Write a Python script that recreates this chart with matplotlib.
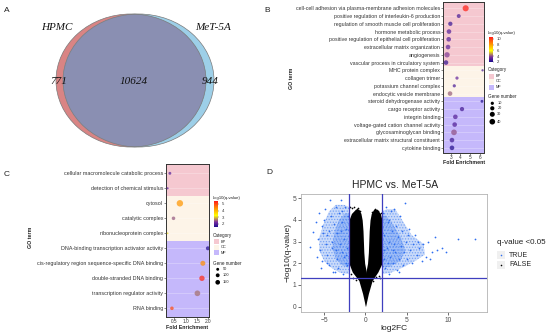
import numpy as np
import matplotlib
matplotlib.use('Agg')
import matplotlib.pyplot as plt
from matplotlib.patches import Ellipse, Rectangle
from matplotlib.colors import LinearSegmentedColormap, Normalize
from matplotlib.cm import ScalarMappable

plt.rcParams['font.family'] = ['Liberation Sans', 'DejaVu Sans']
plt.rcParams['hatch.linewidth'] = 0.6

# ---- A: venn ----
venn_names = ['HPMC', 'MeT-5A']
venn_counts = [771, 10624, 944]   # HPMC only, both, MeT-5A only

# ---- B: GO terms (HPMC vs MeT-5A, top) ----
go_b_terms = ['cell-cell adhesion via plasma-membrane adhesion molecules',
              'positive regulation of interleukin-6 production',
              'regulation of smooth muscle cell proliferation',
              'hormone metabolic process',
              'positive regulation of epithelial cell proliferation',
              'extracellular matrix organization',
              'angiogenesis',
              'vascular process in circulatory system',
              'MHC protein complex',
              'collagen trimer',
              'potassium channel complex',
              'endocytic vesicle membrane',
              'steroid dehydrogenase activity',
              'cargo receptor activity',
              'integrin binding',
              'voltage-gated cation channel activity',
              'glycosaminoglycan binding',
              'extracellular matrix structural constituent',
              'cytokine binding']
go_b_cat = ['BP'] * 8 + ['CC'] * 4 + ['MF'] * 7
go_b_fe = [4.55, 3.83, 2.96, 2.82, 2.79, 2.72, 2.62, 2.51, 6.3, 3.65, 3.37,
           2.93, 6.24, 4.17, 3.48, 3.41, 3.34, 3.13, 3.13]
go_b_logq = [10.5, 2.8, 2.5, 3.0, 3.0, 3.2, 3.8, 2.4, 2.8, 3.3, 2.8, 4.2,
             2.0, 2.7, 3.0, 2.9, 4.0, 2.6, 2.1]
go_b_genes = [47, 17, 21, 25, 25, 25, 35, 25, 3, 10, 10, 25, 7, 21, 25, 25,
              40, 25, 25]

# ---- C: GO terms (bottom) ----
go_c_terms = ['cellular macromolecule catabolic process',
              'detection of chemical stimulus',
              'cytosol',
              'catalytic complex',
              'ribonucleoprotein complex',
              'DNA-binding transcription activator activity',
              'cis-regulatory region sequence-specific DNA binding',
              'double-stranded DNA binding',
              'transcription regulator activity',
              'RNA binding']
go_c_cat = ['BP'] * 2 + ['CC'] * 3 + ['MF'] * 5
go_c_fe = [0.31, 0.21, 0.75, 0.47, 0.21, 1.98, 1.76, 1.72, 1.52, 0.40]
go_c_logq = [2.0, 2.0, 4.3, 2.5, 3.1, 1.6, 4.4, 5.3, 2.6, 5.0]
go_c_genes = [50, 20, 300, 82, 10, 105, 177, 203, 230, 82]

# ---- D: volcano ----
# dense non-significant cloud, two lobes: q level, left / right edge
lobe_q = [0, 0.6, 1.2, 1.6, 2.0, 2.5, 3.0, 3.5, 4.0, 4.3, 4.5]
lobe_l_left = [0, -0.35, -0.8, -1.6, -2, -2, -2, -2, -2, -1.7, -1.2]
lobe_l_right = [0, 0.1, 0.2, 0.1, -0.1, -0.2, -0.25, -0.3, -0.4, -0.55, -0.8]
lobe_r_left = [0, -0.1, -0.1, 0.05, 0.25, 0.35, 0.4, 0.45, 0.55, 0.7, 1.0]
lobe_r_right = [0, 0.35, 0.8, 1.5, 2, 2, 2, 2, 2, 1.8, 1.4]
black_fc = [-1.5, 1.3, -1.2, 1.6, -1.8, 0.9, -1.9, 1.9, -1.4, 1.1, -0.9, 1.7,
            -1.6, -1.0, 1.5, 0.8, -0.7, 1.2]
black_q = [1.3, 1.35, 1.25, 1.4, 1.5, 1.2, 4.6, 4.3, 4.6, 4.45, 4.55, 1.3,
           4.55, 4.5, 4.4, 4.35, 4.4, 4.5]
# significant spread, outer and core outlines
sig_l_fc = [-2, -3, -4, -5, -5.6, -5.6, -5.0, -4.4, -3.6, -2.6, -2]
sig_l_q = [1.5, 1.55, 1.75, 2.1, 2.6, 3.2, 3.9, 4.4, 4.7, 4.7, 4.6]
core_l_fc = [-2, -2.8, -3.6, -4.0, -3.8, -3.2, -2.5, -2]
core_l_q = [1.8, 1.9, 2.2, 2.7, 3.4, 4.0, 4.3, 4.3]
sig_r_fc = [2, 3, 4.5, 6, 7.2, 7.0, 5.6, 4.6, 3.6, 2.6, 2]
sig_r_q = [1.5, 1.55, 1.8, 2.1, 2.4, 2.9, 3.3, 3.9, 4.5, 4.5, 4.4]
core_r_fc = [2, 3, 4.2, 4.8, 4.3, 3.3, 2.5, 2]
core_r_q = [1.8, 1.85, 2.1, 2.6, 3.2, 3.8, 4.2, 4.2]
blue_fc = [-6.7, -6.3, -5.9, -5.7, -5.5, -5.3, -5.2, -5.0, -4.9, -4.7, -4.6,
           -4.4, -4.3, -4.2, -4.1, -4.0, -3.9, -3.8, -3.6, -3.5, -3.4, -3.3,
           -3.2, -3.1, -3.0, -2.9, -2.8, -2.7, -2.6, -2.5, -2.4, -2.3, -2.2,
           -2.1, -2.6, -3.6, -4.4, -3.0, -2.2, -5.6, -6.0, -5.4, -4.8, -3.7,
           -2.9, -2.4, -4.6, -5.1,
           2.1, 2.2, 2.3, 2.4, 2.5, 2.6, 2.7, 2.8, 2.9, 3.0, 3.1, 3.2, 3.3,
           3.4, 3.5, 3.6, 3.7, 3.8, 3.9, 4.0, 4.2, 4.3, 4.4, 4.5, 4.6, 4.8,
           4.9, 5.0, 5.2, 5.4, 5.6, 5.8, 6.0, 6.2, 6.5, 6.8, 7.0, 7.3, 7.6,
           8.0, 8.4, 8.7, 9.2, 9.8, 11.2, 13.3, 2.3, 3.3, 2.7, 5.3, 6.3,
           7.8, 4.1, 2.9]
blue_q = [2.75, 3.45, 2.3, 3.1, 2.6, 3.7, 2.1, 4.0, 4.5, 3.3, 2.4, 1.9, 4.9,
          4.2, 3.0, 2.7, 1.6, 3.8, 4.6, 2.2, 3.4, 1.8, 4.3, 2.9, 4.9, 2.5,
          3.9, 1.5, 3.1, 4.6, 2.0, 3.6, 2.7, 4.2, 2.3, 2.6, 3.5, 3.5, 1.9,
          4.3, 3.9, 1.8, 2.9, 1.6, 4.4, 2.4, 2.0, 3.4,
          4.3, 2.2, 3.3, 1.8, 4.6, 2.7, 3.9, 1.5, 3.0, 2.3, 4.4, 3.5, 2.0,
          2.9, 4.5, 2.5, 3.7, 1.7, 3.2, 2.2, 4.2, 2.8, 3.5, 1.9, 2.5, 4.8,
          3.0, 2.2, 3.3, 2.6, 2.0, 2.9, 3.3, 2.4, 2.7, 2.1, 2.9, 2.3, 3.0,
          2.5, 3.2, 2.6, 2.7, 2.5, 3.1, 3.1, 2.6, 2.6, 2.0, 3.6, 3.0, 2.2,
          1.6, 4.0]

W, H = 550, 335
def box(x0, y0, x1, y1):
    return [x0 / W, 1 - y1 / H, (x1 - x0) / W, (y1 - y0) / H]

cmap = LinearSegmentedColormap.from_list(
    'q', [(0, '#1a0a8c'), (0.2, '#7b2fa0'), (0.45, '#ffff00'),
          (0.7, '#ff9a00'), (1, '#ff1a1a')])
band_colors = {'BP': '#f5c8d0', 'CC': '#fdf4e8', 'MF': '#c5b8fb'}
ink = '#222222'

fig = plt.figure(figsize=(5.5, 3.35), dpi=100)
ov = fig.add_axes([0, 0, 1, 1], zorder=10)
ov.set_xlim(0, W)
ov.set_ylim(H, 0)
ov.axis('off')
ov.patch.set_visible(False)

# panel letters
for s, (x, y) in zip('ABCD', [(7, 11), (267, 10), (7, 175), (269, 172)]):
    ov.text(x, y, s, fontsize=6, va='center', ha='center', color=ink)

# ---------------- A ----------------
ax = fig.add_axes(box(0, 0, 270, 162))
ax.set_xlim(0, 270)
ax.set_ylim(162, 0)
ax.axis('off')
red = Ellipse((131, 80.5), 150, 133, fc='#d98484', ec='none')
blue = Ellipse((138.5, 80.5), 151, 133, fc='#9dcfe8', ec='none')
ax.add_patch(red)
ax.add_patch(blue)
both = Ellipse((131, 80.5), 150, 133, fc='#8a8fb2', ec='none')
ax.add_patch(both)
both.set_clip_path(blue)
for e in [Ellipse((131, 80.5), 150, 133), Ellipse((138.5, 80.5), 151, 133)]:
    e.set_fill(False)
    e.set_edgecolor('#7a7a7a')
    e.set_linewidth(0.5)
    ax.add_patch(e)
vfont = dict(family='Liberation Serif', style='italic', fontsize=8,
             ha='center', va='center', color='#111111')
ax.text(57, 27, venn_names[0], **vfont)
ax.text(213, 27, venn_names[1], **vfont)
for x, n in zip([59, 134, 210], venn_counts):
    ax.text(x, 81, str(n), **vfont)


def go_panel(rect, terms, cats, fe, logq, genes, norm, size_fn, xlim, xticks,
             xticklabels, pad_top, pad_bot, fs):
    ax = fig.add_axes(rect)
    n = len(terms)
    y = np.arange(n)
    for cat in ['BP', 'CC', 'MF']:
        idx = [i for i, c in enumerate(cats) if c == cat]
        lo = min(idx) - 0.5 if min(idx) > 0 else -3
        hi = max(idx) + 0.5 if max(idx) < n - 1 else n + 3
        ax.axhspan(lo, hi, color=band_colors[cat], lw=0, zorder=0)
    for i in y:
        ax.axhline(i, color='white', lw=0.4, alpha=0.45, zorder=1)
    ax.scatter(fe, y, s=size_fn(np.array(genes)), c=logq, cmap=cmap,
               norm=norm, alpha=0.72, lw=0, zorder=3)
    ax.set_xlim(*xlim)
    ax.set_ylim(n - 1 + pad_bot, -pad_top)
    ax.set_yticks(y)
    ax.set_yticklabels(terms, fontsize=fs, color=ink)
    ax.set_xticks(xticks)
    ax.set_xticklabels(xticklabels, fontsize=3.4, color=ink)
    ax.tick_params(length=1.2, width=0.4, pad=0.8, colors='#333333')
    for sp in ax.spines.values():
        sp.set_color('#333333')
        sp.set_linewidth(0.7)
    return ax


def legend_block(x, ycb0, ycb1, norm, cbticks, ytitle, ycat, ygene,
                 gene_vals, gene_y, size_fn, dotx, labx):
    ov.text(x, ytitle, '-log10(q-value)', fontsize=3.1, va='center',
            color=ink)
    cax = fig.add_axes(box(x + 1, ycb0, x + 5, ycb1))
    cb = fig.colorbar(ScalarMappable(norm=norm, cmap=cmap), cax=cax)
    cb.outline.set_visible(False)
    cb.set_ticks(cbticks)
    cax.tick_params(labelsize=3.1, length=1, width=0.3, pad=1.5,
                    colors='#333333')
    ov.text(x, ycat, 'Category', fontsize=3.3, va='center', color=ink)
    for k, cat in enumerate(['BP', 'CC', 'MF']):
        yy = ycat + 6 + k * 5.5
        ov.add_patch(Rectangle((x + 1, yy - 2.5), 5, 5,
                               fc=band_colors[cat], ec='none'))
        ov.text(labx, yy, cat, fontsize=2.8, va='center', color=ink)
    ov.text(x, ygene, 'Gene number', fontsize=3.3, va='center', color=ink)
    ov.scatter([dotx] * len(gene_vals), gene_y, s=size_fn(np.array(gene_vals)),
               c='black', lw=0)
    for g, yy in zip(gene_vals, gene_y):
        ov.text(dotx + 5, yy, str(g), fontsize=2.8, va='center', color=ink)


# ---------------- B ----------------
size_b = lambda n: ((2.67 + 0.633 * n) ** 0.5 * 0.72) ** 2 * 1.15
norm_b = Normalize(1.9, 10.7)
go_panel(box(443, 2, 484, 152.5), go_b_terms, go_b_cat, go_b_fe, go_b_logq,
         go_b_genes, norm_b, size_b, (2.2, 6.45), [3, 4, 5, 6],
         ['3', '4', '5', '6'], 0.81, 0.6, 3.8)
ov.text(464, 162.5, 'Fold Enrichment', fontsize=3.8, fontweight='bold',
        ha='center', va='center', color=ink)
ov.text(291.5, 78, 'GO term', fontsize=3.8, fontweight='bold', rotation=90,
        ha='center', va='center', color=ink)
legend_block(488, 37, 62, norm_b, [2, 4, 6, 8, 10], 33, 70, 96.7,
             [10, 20, 30, 40], [103.3, 108.3, 114.3, 121.7], size_b,
             492.3, 496)

# ---------------- C ----------------
size_c = lambda n: ((1.6 + 0.115 * n) ** 0.5 * 0.72) ** 2 * 1.15
norm_c = Normalize(1.5, 5.45)
go_panel(box(166, 164, 209, 316.7), go_c_terms, go_c_cat, go_c_fe, go_c_logq,
         go_c_genes, norm_c, size_c, (0.14, 2.03), [0.5, 1.0, 1.5, 2.0],
         ['0.5', '1.0', '1.5', '2.0'], 0.62, 0.56, 3.9)
ov.text(187.5, 327.5, 'Fold Enrichment', fontsize=3.8, fontweight='bold',
        ha='center', va='center', color=ink)
ov.text(30, 237, 'GO term', fontsize=3.8, fontweight='bold', rotation=90,
        ha='center', va='center', color=ink)
legend_block(213, 201, 227.3, norm_c, [2, 3, 4, 5], 198.3, 235.7, 263.3,
             [50, 100, 150], [269.3, 275.3, 282.3], size_c, 217.7, 221)

# ---------------- D ----------------
axd = fig.add_axes(box(301, 194, 487, 312))
axd.fill(sig_l_fc, sig_l_q, fc='#9dbcf6', ec='#3f7cf0', hatch='......',
         alpha=0.55, lw=0, zorder=1)
axd.fill(sig_r_fc, sig_r_q, fc='#9dbcf6', ec='#3f7cf0', hatch='......',
         alpha=0.55, lw=0, zorder=1)
axd.fill(core_l_fc, core_l_q, fc='#5b8ff2', ec='#2f6ff0', hatch='.....',
         alpha=0.4, lw=0, zorder=1)
axd.fill(core_r_fc, core_r_q, fc='#5b8ff2', ec='#2f6ff0', hatch='.....',
         alpha=0.4, lw=0, zorder=1)
axd.scatter(blue_fc, blue_q, s=1.6, color='#2f6ff0', lw=0, zorder=2)
axd.fill_betweenx(lobe_q, lobe_l_left, lobe_l_right, color='black', lw=0,
                  zorder=3)
axd.fill_betweenx(lobe_q, lobe_r_left, lobe_r_right, color='black', lw=0,
                  zorder=3)
axd.scatter(black_fc, black_q, s=1.5, color='black', lw=0, zorder=3)
for x in [-2, 2]:
    axd.axvline(x, color='#3f3fbf', lw=0.9, zorder=4)
axd.axhline(1.3, color='#3f3fbf', lw=0.9, zorder=4)
axd.set_xlim(-7.8, 14.7)
axd.set_ylim(-0.25, 5.2)
axd.set_xticks([-5, 0, 5, 10])
axd.set_yticks([0, 1, 2, 3, 4, 5])
axd.tick_params(labelsize=4.8, length=2, width=0.5, pad=1.5,
                colors='#333333', labelcolor='#4d4d4d')
for sp in axd.spines.values():
    sp.set_color('#b3b3b3')
    sp.set_linewidth(0.6)
ov.text(395, 185.5, 'HPMC vs. MeT-5A', fontsize=7.5, ha='center',
        va='center', color=ink)
ov.text(394, 329, 'log2FC', fontsize=6, ha='center', va='center', color=ink)
ov.text(288, 253, '\u2212log10(q-value)', fontsize=6, rotation=90,
        ha='center', va='center', color=ink)
ov.text(497, 242, 'q-value <0.05', fontsize=5.8, va='center', color=ink)
for k, (lab, col) in enumerate([('TRUE', '#2f6ff0'), ('FALSE', 'black')]):
    yy = 255.3 + k * 9.3
    ov.add_patch(Rectangle((497, yy - 4), 8, 8, fc='#f0f0f0', ec='none'))
    ov.scatter([501], [yy], s=1.3, color=col, lw=0)
    ov.text(509, yy, lab, fontsize=5, va='center', color=ink)

fig.savefig('out.png', dpi=100)
